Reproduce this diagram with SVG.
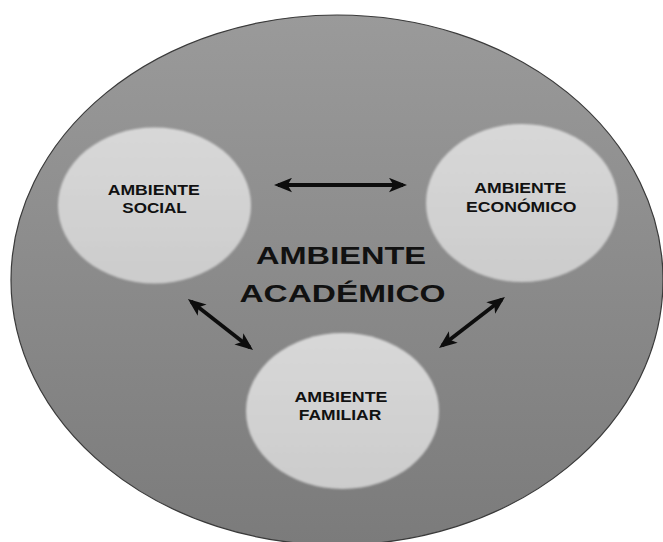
<svg xmlns="http://www.w3.org/2000/svg" width="663" height="542" viewBox="0 0 663 542">
<style>
.node{fill:url(#gNode);filter:url(#soft)}
.lbl{font-family:"Liberation Sans",Arial,sans-serif;font-weight:bold;font-size:14.5px;fill:#111;text-anchor:middle}
.big{font-family:"Liberation Sans",Arial,sans-serif;font-weight:bold;font-size:24.5px;fill:#111;text-anchor:middle}
.conn{stroke:#0d0d0d;stroke-width:3.8;fill:none;marker-start:url(#ah);marker-end:url(#ah)}
</style>
<defs>
<linearGradient id="gBig" x1="0" y1="0" x2="0" y2="1">
<stop offset="0" stop-color="#9a9a9a"/>
<stop offset="1" stop-color="#7b7b7b"/>
</linearGradient>
<linearGradient id="gNode" x1="0" y1="0" x2="0" y2="1">
<stop offset="0" stop-color="#d8d8d8"/>
<stop offset="1" stop-color="#cccccc"/>
</linearGradient>
<filter id="soft" x="-5%" y="-5%" width="110%" height="110%">
<feGaussianBlur stdDeviation="1"/>
</filter>
<marker id="ah" viewBox="0 0 18 15" refX="14" refY="7.5" markerWidth="18" markerHeight="15" markerUnits="userSpaceOnUse" orient="auto-start-reverse">
<path d="M0,0.3 L18,7.5 L0,14.7 L4.5,7.5 Z" fill="#0d0d0d"/>
</marker>
</defs>
<rect width="663" height="542" fill="#ffffff"/>
<g id="ambiente-academico">
<ellipse cx="337" cy="280" rx="326" ry="265" fill="url(#gBig)" stroke="#3a3a3a" stroke-width="1.2"/>
<text class="big" x="341" y="264.3" textLength="170" lengthAdjust="spacingAndGlyphs">AMBIENTE</text>
<text class="big" x="342.5" y="301.7" textLength="206" lengthAdjust="spacingAndGlyphs">ACADÉMICO</text>
</g>
<g id="connectors">
<line class="conn" x1="278" y1="185" x2="403" y2="185"/>
<line class="conn" x1="191.1" y1="301.5" x2="249.9" y2="347.5"/>
<line class="conn" x1="501.8" y1="299.4" x2="442.2" y2="345.6"/>
</g>
<g id="ambiente-social">
<ellipse class="node" cx="154.5" cy="205.5" rx="96.5" ry="78"/>
<text class="lbl" x="153.7" y="195" textLength="92" lengthAdjust="spacingAndGlyphs">AMBIENTE</text>
<text class="lbl" x="154.5" y="213.3" textLength="64.5" lengthAdjust="spacingAndGlyphs">SOCIAL</text>
</g>
<g id="ambiente-economico">
<ellipse class="node" cx="522" cy="203" rx="96" ry="79"/>
<text class="lbl" x="520.3" y="193.3" textLength="92" lengthAdjust="spacingAndGlyphs">AMBIENTE</text>
<text class="lbl" x="521.3" y="211.7" textLength="110.5" lengthAdjust="spacingAndGlyphs">ECONÓMICO</text>
</g>
<g id="ambiente-familiar">
<ellipse class="node" cx="342.5" cy="411" rx="96.5" ry="78"/>
<text class="lbl" x="341" y="402.3" textLength="93" lengthAdjust="spacingAndGlyphs">AMBIENTE</text>
<text class="lbl" x="340" y="420" textLength="82.5" lengthAdjust="spacingAndGlyphs">FAMILIAR</text>
</g>
</svg>
